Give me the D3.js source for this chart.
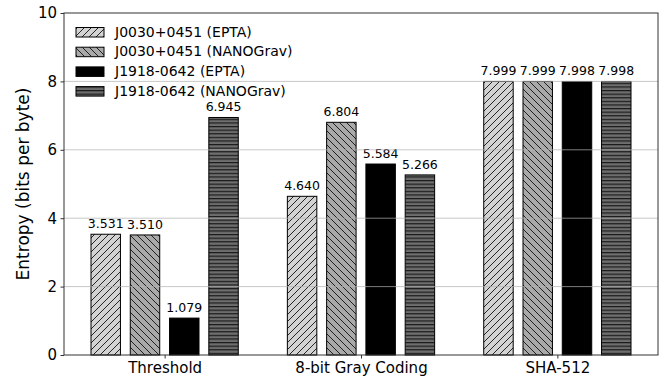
<!DOCTYPE html>
<html><head><meta charset="utf-8">
<script src="https://cdn.jsdelivr.net/npm/d3@7"></script>
<style>body{margin:0;background:#fff}svg{display:block}text{font-family:"DejaVu Sans",sans-serif}</style>
</head><body>
<svg id="c" width="672" height="376"></svg>
<script>
const categories = ["Threshold", "8-bit Gray Coding", "SHA-512"];
const seriesNames = ["J0030+0451 (EPTA)", "J0030+0451 (NANOGrav)", "J1918-0642 (EPTA)", "J1918-0642 (NANOGrav)"];
const j0030Epta = [3.531, 4.640, 7.999];
const j0030Nano = [3.510, 6.804, 7.999];
const j1918Epta = [1.079, 5.584, 7.998];
const j1918Nano = [6.945, 5.266, 7.998];
const yTicks = [0, 2, 4, 6, 8, 10];

const series = [j0030Epta, j0030Nano, j1918Epta, j1918Nano];
const fills = ["url(#hFwd)", "url(#hBack)", "#000", "url(#hHor)"];

const svg = d3.select("#c");
const L = 64, R = 658, T = 13, B = 355;
const barW = 0.15, step = 0.2;
const x = d3.scaleLinear().domain([-0.5125, 2.5125]).range([L, R]);
const y = d3.scaleLinear().domain([0, 10]).range([B, T]);

const defs = svg.append("defs");
function diag(id, bg, fwd) {
  const s = 7;
  const p = defs.append("pattern").attr("id", id).attr("patternUnits", "userSpaceOnUse")
    .attr("width", s).attr("height", s);
  p.append("rect").attr("width", s).attr("height", s).attr("fill", bg);
  const d = fwd ? `M0,${s} L${s},0 M${-s/2},${s/2} L${s/2},${-s/2} M${s/2},${s*1.5} L${s*1.5},${s/2}`
                : `M0,0 L${s},${s} M${-s/2},${s/2} L${s/2},${s*1.5} M${s/2},${-s/2} L${s*1.5},${s/2}`;
  p.append("path").attr("d", d).attr("stroke", "#111").attr("stroke-width", 0.9);
}
diag("hFwd", "#d3d3d3", true);
diag("hBack", "#a9a9a9", false);
{
  const s = 3.6;
  const p = defs.append("pattern").attr("id", "hHor").attr("patternUnits", "userSpaceOnUse")
    .attr("width", 10).attr("height", s);
  p.append("rect").attr("width", 10).attr("height", s).attr("fill", "#6e6e6e");
  p.append("rect").attr("y", 0).attr("width", 10).attr("height", 1.2).attr("fill", "#1a1a1a");
}

// bars
series.forEach((vals, si) => {
  const off = (si - 1.5) * step;
  svg.append("g").selectAll("rect").data(vals).join("rect")
    .attr("x", (d, i) => x(i + off - barW / 2))
    .attr("width", x(barW) - x(0))
    .attr("y", d => y(d))
    .attr("height", d => y(0) - y(d))
    .attr("fill", fills[si])
    .attr("stroke", "#000").attr("stroke-width", 1);
  svg.append("g").selectAll("text").data(vals).join("text")
    .attr("x", (d, i) => x(i + off))
    .attr("y", d => y(d) - 6)
    .attr("text-anchor", "middle")
    .attr("font-size", 12.5)
    .attr("fill", "#000")
    .text(d => d.toFixed(3));
});

// grid (on top)
svg.append("g").selectAll("line").data(yTicks.filter(t => t > 0 && t < 10)).join("line")
  .attr("x1", L).attr("x2", R).attr("y1", d => y(d)).attr("y2", d => y(d))
  .attr("stroke", "#b0b0b0").attr("stroke-opacity", 0.7).attr("stroke-width", 1);

// axes
const yAx = svg.append("g").attr("transform", `translate(${L},0)`)
  .call(d3.axisLeft(y).tickValues(yTicks).tickFormat(d3.format("d")).tickSize(3.5).tickPadding(3.5));
yAx.selectAll("text").attr("font-size", 15).attr("fill", "#000").style("font-family", "DejaVu Sans");
const xAx = svg.append("g").attr("transform", `translate(0,${B})`)
  .call(d3.axisBottom(x).tickValues([0, 1, 2]).tickFormat((d, i) => categories[i]).tickSize(3.5).tickPadding(3.5));
xAx.selectAll("text").attr("font-size", 15).attr("fill", "#000").style("font-family", "DejaVu Sans");
[yAx, xAx].forEach(g => { g.select(".domain").remove(); g.selectAll("line").attr("stroke", "#333"); });

svg.append("rect").attr("x", L).attr("y", T).attr("width", R - L).attr("height", B - T)
  .attr("fill", "none").attr("stroke", "#333").attr("stroke-width", 1);

svg.append("text").attr("transform", `translate(23,${(T + B) / 2}) rotate(-90)`)
  .attr("text-anchor", "middle").attr("dy", "0.35em").attr("font-size", 17).attr("fill", "#000")
  .text("Entropy (bits per byte)");

// legend
const leg = svg.append("g");
seriesNames.forEach((n, i) => {
  const cy = 31.5 + i * 19.7;
  leg.append("rect").attr("x", 76).attr("y", cy - 4).attr("width", 28).attr("height", 9.5)
    .attr("fill", fills[i]).attr("stroke", "#000").attr("stroke-width", 1);
  leg.append("text").attr("x", 115).attr("y", cy).attr("dy", "0.36em")
    .attr("font-size", 14).attr("fill", "#000").text(n);
});
</script>
</body></html>
